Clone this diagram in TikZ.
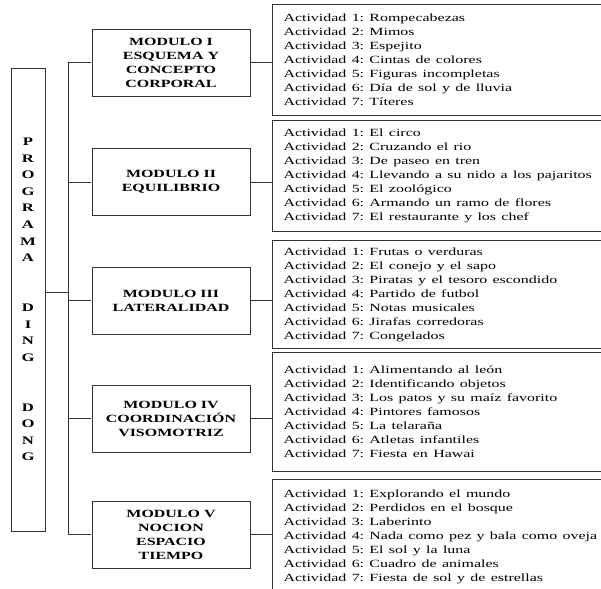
\documentclass[tikz,border=0pt]{standalone}
\usepackage{fontspec}
\setmainfont{Liberation Serif}
\usepackage{tikz}
\usetikzlibrary{positioning}
\frenchspacing

\begin{document}
\begin{tikzpicture}[x=1pt, y=-1pt, line width=0.9pt,
                    font=\fontsize{11}{14}\selectfont]
\tikzstyle{caja}=[draw=black!80, rectangle, inner sep=0pt, xscale=1.45]
\tikzstyle{programa}=[caja, minimum width=23.5pt, minimum height=463pt,
                    font=\fontsize{11.5}{16.6}\selectfont\bfseries, align=center]
\tikzstyle{modulo}=[caja, minimum width=109pt, minimum height=67pt,
                    font=\fontsize{11}{14}\selectfont\bfseries, align=center]
\tikzstyle{actividad}=[caja, anchor=north west, minimum width=240pt,
                    inner xsep=7.5pt, text width=225pt, align=left]
  \useasboundingbox (0,0) rectangle (601,588);
  \clip (0,0) rectangle (601,588);
  % program column
  \node[programa] (P) at (28,299.5)
    {P\\R\\O\\G\\R\\A\\M\\A\\[33.2pt]D\\I\\N\\G\\[33.2pt]D\\O\\N\\G};
  % modules
  \node[modulo] (MI)   at (171,62.5)  {MODULO I\\ESQUEMA Y\\CONCEPTO\\CORPORAL};
  \node[modulo] (MII)  at (171,182)   {MODULO II\\EQUILIBRIO};
  \node[modulo] (MIII) at (171,300.5) {MODULO III\\LATERALIDAD};
  \node[modulo] (MIV)  at (171,418.5) {MODULO IV\\COORDINACIÓN\\VISOMOTRIZ};
  \node[modulo] (MV)   at (171,534.5) {MODULO V\\NOCION\\ESPACIO\\TIEMPO};
  % activities
  \node[actividad, minimum height=111pt] (AI) at (272,4)
    {Actividad 1: Rompecabezas\\Actividad 2: Mimos\\Actividad 3: Espejito\\
     Actividad 4: Cintas de colores\\Actividad 5: Figuras incompletas\\
     Actividad 6: Día de sol y de lluvia\\Actividad 7: Títeres\\[8pt]};
  \node[actividad, minimum height=111pt] (AII) at (272,120)
    {Actividad 1: El circo\\Actividad 2: Cruzando el rio\\
     Actividad 3: De paseo en tren\\
     Actividad 4: Llevando a su nido a los pajaritos\\
     Actividad 5: El zoológico\\Actividad 6: Armando un ramo de flores\\
     Actividad 7: El restaurante y los chef\\[8pt]};
  \node[actividad, minimum height=108pt] (AIII) at (272,240)
    {Actividad 1: Frutas o verduras\\Actividad 2: El conejo y el sapo\\
     Actividad 3: Piratas y el tesoro escondido\\
     Actividad 4: Partido de futbol\\Actividad 5: Notas musicales\\
     Actividad 6: Jirafas corredoras\\Actividad 7: Congelados\\[6pt]};
  \node[actividad, minimum height=119pt] (AIV) at (272,352)
    {Actividad 1: Alimentando al león\\Actividad 2: Identificando objetos\\
     Actividad 3: Los patos y su maíz favorito\\
     Actividad 4: Pintores famosos\\Actividad 5: La telaraña\\
     Actividad 6: Atletas infantiles\\Actividad 7: Fiesta en Hawai\\[2pt]};
  \node[actividad, minimum height=115pt] (AV) at (272,479)
    {Actividad 1: Explorando el mundo\\Actividad 2: Perdidos en el bosque\\
     Actividad 3: Laberinto\\
     Actividad 4: Nada como pez y bala como oveja\\
     Actividad 5: El sol y la luna\\Actividad 6: Cuadro de animales\\
     Actividad 7: Fiesta de sol y de estrellas\\[22pt]};
  % connectors
  \coordinate (spine) at (68,0);
  \draw[black!80] ([yshift=7.5pt]P.east) -- ([yshift=7.5pt]P.east -| spine);
  \draw[black!80] (MI.west) -- (MI.west -| spine) |- (MV.west);
  \foreach \m in {MII,MIII,MIV}
    \draw[black!80] (\m.west) -- (\m.west -| spine);
  \foreach \m/\a in {MI/AI,MII/AII,MIII/AIII,MIV/AIV,MV/AV}
    \draw[black!80] (\m.east) -- (\m.east -| \a.west);
\end{tikzpicture}
\end{document}
